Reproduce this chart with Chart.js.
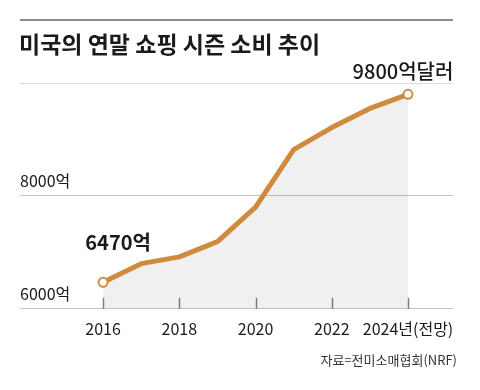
<!DOCTYPE html>
<html><head><meta charset="utf-8">
<script src="https://cdn.jsdelivr.net/npm/chart.js@4/dist/chart.umd.min.js"></script>
<style>html,body{margin:0;padding:0;background:#fff}canvas{display:block}</style>
</head><body>
<canvas id="c" width="480" height="390"></canvas>
<script>
const years = [2016, 2017, 2018, 2019, 2020, 2021, 2022, 2023, 2024];
const spending = [6470, 6800, 6920, 7190, 7800, 8820, 9210, 9550, 9800];
const xTickYears = [2016, 2018, 2020, 2022, 2024];
const xTickLabels = ['2016', '2018', '2020', '2022', '2024년(전망)'];
const yTickValues = [6000, 8000, 10000];
const yTickLabels = ['6000억', '8000억', ''];
const titleText = '미국의 연말 쇼핑 시즌 소비 추이';
const sourceText = '자료=전미소매협회(NRF)';
const firstLabel = '6470억';
const lastLabel = '9800억달러';

const FONT = '"Noto Sans CJK KR", "Noto Sans", sans-serif';
const ORANGE = '#cf8a3e';

const decor = {
  id: 'decor',
  afterDraw(chart) {
    const ctx = chart.ctx;
    const xs = chart.scales.x, ys = chart.scales.y;
    ctx.save();
    ctx.strokeStyle = '#8c8c8c'; ctx.lineWidth = 2;
    ctx.beginPath(); ctx.moveTo(20, 20); ctx.lineTo(453, 20); ctx.stroke();
    ctx.fillStyle = '#1a1a1a'; ctx.font = 'bold 23px ' + FONT;
    ctx.textAlign = 'left'; ctx.textBaseline = 'middle';
    ctx.fillText(titleText, 19, 44);
    ctx.fillStyle = '#333'; ctx.font = '13px ' + FONT;
    ctx.textAlign = 'right';
    ctx.fillText(sourceText, 457, 360);
    const x0 = xs.getPixelForValue(years[0]), y0 = ys.getPixelForValue(spending[0]);
    const n = years.length - 1;
    const x1 = xs.getPixelForValue(years[n]), y1 = ys.getPixelForValue(spending[n]);
    ctx.font = 'bold 20px ' + FONT; ctx.fillStyle = '#1a1a1a'; ctx.textAlign = 'center';
    ctx.fillText(firstLabel, x0 + 15, y0 - 40);
    ctx.font = '500 20px ' + FONT;
    const w = ctx.measureText(lastLabel).width;
    ctx.fillStyle = '#fff';
    ctx.fillRect(x1 - 5 - w / 2 - 8, y1 - 37, w + 30, 24);
    ctx.fillStyle = '#1a1a1a';
    ctx.fillText(lastLabel, x1 - 5, y1 - 23);
    ctx.restore();
  },
  afterDatasetsDraw(chart) {
    const ctx = chart.ctx;
    const xs = chart.scales.x, ys = chart.scales.y;
    const base = ys.getPixelForValue(6000);
    ctx.save();
    ctx.strokeStyle = '#7a7a7a'; ctx.lineWidth = 1.5;
    xTickYears.forEach(v => {
      const px = Math.round(xs.getPixelForValue(v)) + 0.5;
      ctx.beginPath(); ctx.moveTo(px, base - 11); ctx.lineTo(px, base); ctx.stroke();
    });
    ctx.restore();
  }
};

new Chart(document.getElementById('c'), {
  type: 'line',
  data: {
    datasets: [{
      data: years.map((y, i) => ({ x: y, y: spending[i] })),
      borderColor: ORANGE,
      borderWidth: 5,
      borderJoinStyle: 'round',
      backgroundColor: 'rgba(0,0,0,0.058)',
      fill: 'start',
      tension: 0,
      pointRadius: ctx => (ctx.dataIndex === 0 || ctx.dataIndex === years.length - 1) ? 4.5 : 0,
      pointHoverRadius: 0,
      pointBackgroundColor: '#fff',
      pointBorderColor: ORANGE,
      pointBorderWidth: 2
    }]
  },
  options: {
    responsive: false,
    devicePixelRatio: 1,
    animation: false,
    events: [],
    layout: { padding: { left: 20, right: 27, top: 83, bottom: 40 } },
    plugins: { legend: { display: false }, tooltip: { enabled: false }, title: { display: false } },
    scales: {
      x: {
        type: 'linear',
        min: 2013.82, max: 2025.18,
        afterBuildTicks: s => { s.ticks = xTickYears.map(v => ({ value: v })); },
        grid: { display: false, drawTicks: false },
        border: { display: false },
        ticks: {
          padding: 11,
          color: '#1a1a1a',
          font: { family: FONT, size: 16 },
          maxRotation: 0, autoSkip: false,
          callback: v => xTickLabels[xTickYears.indexOf(v)]
        }
      },
      y: {
        min: 6000, max: 10000,
        afterBuildTicks: s => { s.ticks = yTickValues.map(v => ({ value: v })); },
        grid: {
          drawTicks: false,
          color: ctx => ctx.tick && ctx.tick.value === 10000 ? '#dcdcdc' : '#c4c4c4',
          lineWidth: 1
        },
        border: { display: false },
        ticks: {
          mirror: true,
          padding: 0,
          labelOffset: -15,
          color: '#1a1a1a',
          font: { family: FONT, size: 16 },
          callback: v => yTickLabels[yTickValues.indexOf(v)]
        }
      }
    }
  },
  plugins: [decor]
});
</script>
</body></html>
